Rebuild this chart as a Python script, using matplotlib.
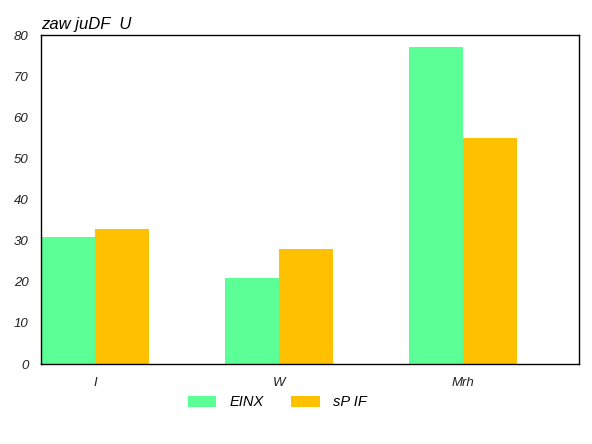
import matplotlib
matplotlib.use("Agg")
import matplotlib.pyplot as plt
import numpy as np

categories = ["I", "W", "Mrh"]
series_names = ["EINX", "sP IF"]
einx = [31, 21, 77]
spif = [32.8, 28, 55]
yticks = [0, 10, 20, 30, 40, 50, 60, 70, 80]
title = "zaw juDF  U"

colors = ["#5CFF96", "#FFC000"]

plt.rcParams['font.family'] = ['Liberation Sans', 'DejaVu Sans']
plt.rcParams['font.style'] = 'italic'

fig = plt.figure(figsize=(5.92, 4.44), dpi=100)
ax = fig.add_axes([41/592, 80/444, 538/592, 329/444])

x = np.arange(len(categories))
w = 0.293
ax.bar(x - w/2, einx, width=w, color=colors[0], label=series_names[0], linewidth=0)
ax.bar(x + w/2, spif, width=w, color=colors[1], label=series_names[1], linewidth=0)

ax.set_xlim(-0.293, 2.630)
ax.set_ylim(0, 80)
ax.set_yticks(yticks)
ax.set_yticklabels([str(v) for v in yticks], fontsize=9.5, style='italic', color='#222222')
ax.set_xticks(x)
ax.set_xticklabels(categories, fontsize=9.5, style='italic', color='#222222')
ax.tick_params(axis='both', length=0)
ax.tick_params(axis='y', pad=9)
ax.tick_params(axis='x', pad=9)
for s in ax.spines.values():
    s.set_linewidth(1.0)
    s.set_color('black')

ax.set_title(title, loc='left', fontsize=12, style='italic', pad=4, x=0.0)

leg = ax.legend(loc='upper center', bbox_to_anchor=(0.439, -0.055), ncol=2, frameon=False,
                handlelength=1.95, handleheight=0.8, columnspacing=1.9,
                handletextpad=0.9, prop={'style': 'italic', 'size': 10.5})

fig.savefig("out.png", dpi=100)
